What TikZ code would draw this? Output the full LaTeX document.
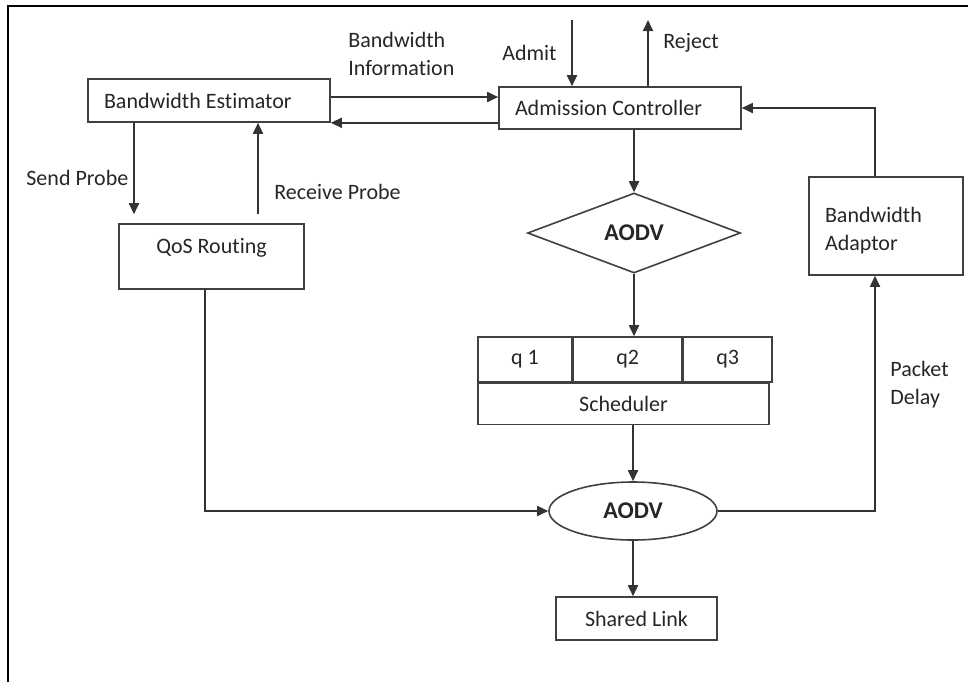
\documentclass[tikz,border=0pt]{standalone}
\usepackage{fontspec}
\setmainfont{Carlito}[Ligatures=NoCommon]
\usepackage{tikz}
\usetikzlibrary{shapes.geometric, arrows.meta, positioning}
\tikzstyle{arrow} = [line width=0.9pt, draw=black!80, -{Triangle[length=5.5pt,width=5pt]}]
\tikzstyle{block} = [draw=black!75, line width=0.8pt, rectangle, inner sep=0pt, text=black!85]
\tikzstyle{lbl} = [text=black!85, align=flush left, inner sep=0pt]

\begin{document}
\begin{tikzpicture}[x=0.5pt, y=-0.5pt, font=\fontsize{11}{14}\selectfont]
    \useasboundingbox (0,0) rectangle (968,682);

    % Frame
    \draw[line width=1.2pt] (8,682) -- (8,6) -- (968,6);

    % Estimator and admission control
    \node[block, align=flush left, text width=105pt, inner xsep=8pt, minimum height=21.5pt] (est) at (209,100.5) {Bandwidth Estimator};
    \node[block, align=flush left, text width=105pt, inner xsep=8pt, minimum height=21pt] (adm) at (620,108) {Admission Controller};
    \node[block, minimum width=92.5pt, minimum height=32.5pt, text depth=10.5pt] (qos) at (211.5,256.5) {QoS Routing};
    \node[block, align=flush left, text width=61pt, inner xsep=8pt, minimum height=49pt, text depth=11pt] (adapt) at (886,226) {Bandwidth\\Adaptor};

    % AODV decision
    \node[block, diamond, minimum width=106.5pt, minimum height=40pt, font=\fontsize{12}{14}\selectfont\bfseries] (dia) at (634,233) {AODV};

    % Queues and scheduler
    \node[block, minimum width=47pt, minimum height=22.5pt] (q1) at (525,359.5) {q 1};
    \node[block, minimum width=54pt, minimum height=22.5pt, right=0pt of q1] (q2) {q2};
    \node[block, minimum width=44.5pt, minimum height=22.5pt, right=0pt of q2] (q3) {q3};
    \node[block, minimum width=145.5pt, minimum height=20.5pt, anchor=north west] (sched) at (q1.south west) {Scheduler};

    % AODV and link
    \node[block, ellipse, minimum width=84pt, minimum height=29pt, font=\fontsize{12}{14}\selectfont\bfseries] (ell) at (633,511) {AODV};
    \node[block, minimum width=80.5pt, minimum height=21.5pt] (link) at (636.5,618.5) {Shared Link};

    % Labels
    \node[lbl, anchor=west] (bwinfo) at (348,54) {Bandwidth\\Information};
    \node[lbl, anchor=east] (admit) at (557,53) {Admit};
    \node[lbl, anchor=west] (reject) at (663,43) {Reject};
    \node[lbl, anchor=west] (send) at (26,178) {Send Probe};
    \node[lbl, anchor=west] (recv) at (274,192) {Receive Probe};
    \node[lbl, anchor=west] (delay) at (890,385) {Packet\\Delay};

    % Helper points
    \coordinate (in) at (572,20);
    \coordinate (out) at (648,20);
    \coordinate (sendtop) at ([xshift=-37.5pt]est.south);
    \coordinate (recvtop) at ([xshift=24.5pt]est.south);
    \coordinate (bwup) at ([yshift=1.75pt]est.east);
    \coordinate (adapttop) at ([xshift=-5.5pt]adapt.north);
    \coordinate (adaptbot) at ([xshift=-5.5pt]adapt.south);

    % Connectors
    \draw[arrow] (bwup) -- (bwup -| adm.west);
    \draw[arrow] (adm.west |- est.south east) -- (est.south east);
    \draw[arrow] (in) -- (in |- adm.north);
    \draw[arrow] (out |- adm.north) -- (out);
    \draw[arrow] (dia.north |- adm.south) -- (dia.north);
    \draw[arrow] (dia.south) -- (dia.south |- q2.north);
    \draw[arrow] (sched.south -| ell.north) -- (ell.north);
    \draw[arrow] (ell.south) -- (ell.south |- link.north);
    \draw[arrow, shorten >=4.5pt] (sendtop) -- (sendtop |- qos.north);
    \draw[arrow, shorten <=4.5pt] (recvtop |- qos.north) -- (recvtop);
    \draw[arrow] ([xshift=-3.25pt]qos.south) |- (ell.west);
    \draw[arrow] (ell.east) -| (adaptbot);
    \draw[arrow] (adapttop) |- (adm.east);

\end{tikzpicture}
\end{document}
